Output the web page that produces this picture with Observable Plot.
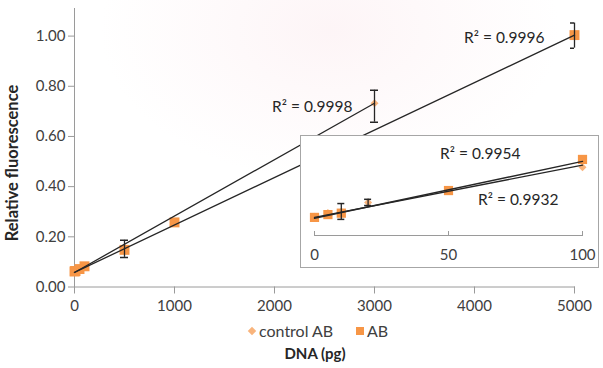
<!DOCTYPE html>
<html><head><meta charset="utf-8">
<script src="https://cdn.jsdelivr.net/npm/d3@7"></script>
<script src="https://cdn.jsdelivr.net/npm/@observablehq/plot@0.6"></script>
<style>
body{margin:0;background:#fff;}
#chart{position:relative;width:603px;height:368px;overflow:hidden;font-family:Lato,sans-serif;color:#404040;
  background:radial-gradient(ellipse 230px 150px at 330px 30px, rgba(250,226,231,0.35), rgba(255,255,255,0));}
#main{position:absolute;left:0;top:0;}
#inset{position:absolute;left:300px;top:135px;width:297px;height:131px;border:1px solid #a6a6a6;background:#fff;}
.txt{position:absolute;font-size:16px;line-height:20px;white-space:nowrap;}
.bold{font-weight:bold;color:#262626;}
svg [aria-label$="tick"]{stroke:#9a9a9a;}
svg [aria-label$="tick label"]{fill:#404040;}
</style></head>
<body>
<div id="chart">
  <div id="main"></div>
  <div id="inset"></div>
  <div id="legend"></div>
  <div class="txt bold" style="left:215px;width:200px;text-align:center;top:343px;font-size:15px;">DNA (pg)</div>
  <div class="txt bold" style="left:-88px;width:200px;text-align:center;top:153px;font-size:16.5px;transform:rotate(-90deg);">Relative fluorescence</div>
</div>
<script>
// ---- data ----
const abX = [0, 5, 10, 50, 100, 500, 1000, 5000];
const abY = [0.062, 0.063, 0.0635, 0.0715, 0.0825, 0.148, 0.2575, 1.004];
const ctlX = [0, 5, 10, 20, 100, 500, 3000];
const ctlY = [0.0622, 0.0636, 0.064, 0.0673, 0.0797, 0.155, 0.7325];

const errX = [500, 3000, 5000];
const errLo = [0.118, 0.657, 0.952];
const errHi = [0.186, 0.784, 1.052];

const abTrendX = [0, 5000], abTrendY = [0.058, 1.004];
const ctlTrendX = [0, 3000], ctlTrendY = [0.058, 0.7325];

const insetMaxX = 100;
const insetErrX = [10, 20];
const insetErrLo = [0.0613, 0.0662];
const insetErrHi = [0.0669, 0.0684];
const insetAbTrendX = [0, 100], insetAbTrendY = [0.0617, 0.0818];
const insetCtlTrendX = [0, 100], insetCtlTrendY = [0.062, 0.0805];

const xTicks = [0, 1000, 2000, 3000, 4000, 5000];
const yTicks = [0, 0.2, 0.4, 0.6, 0.8, 1.0];
const insetTicks = [0, 50, 100];

const r2Main = {ctl: "R² = 0.9998", ab: "R² = 0.9996"};
const r2Inset = {ab: "R² = 0.9954", ctl: "R² = 0.9932"};
const seriesNames = ["control AB", "AB"];

// ---- build tables ----
const zip = (xs, ys) => xs.map((x, i) => ({x, y: ys[i]}));
const ab = zip(abX, abY), ctl = zip(ctlX, ctlY);
const errs = errX.map((x, i) => ({x, lo: errLo[i], hi: errHi[i]}));
const abTrend = zip(abTrendX, abTrendY), ctlTrend = zip(ctlTrendX, ctlTrendY);
const abIn = ab.filter(d => d.x <= insetMaxX), ctlIn = ctl.filter(d => d.x <= insetMaxX);
const insetErrs = insetErrX.map((x, i) => ({x, lo: insetErrLo[i], hi: insetErrHi[i]}));
const insetAbTrend = zip(insetAbTrendX, insetAbTrendY), insetCtlTrend = zip(insetCtlTrendX, insetCtlTrendY);

const ORANGE = "#F79646", LIGHT = "#F9B47C", LINE = "#262626", AX = "#9a9a9a";
const font = {background: "transparent", fontFamily: "Lato, sans-serif", fontSize: "15px", color: "#404040", overflow: "visible"};

const lastOf = a => a[a.length - 1];

const main = Plot.plot({
  width: 603, height: 320,
  marginLeft: 74, marginRight: 29, marginTop: 8, marginBottom: 33.5,
  style: font,
  x: {domain: [0, 5000]},
  y: {domain: [0, 1.11]},
  marks: [
    Plot.frame({anchor: "left", stroke: AX}),
    Plot.frame({anchor: "bottom", stroke: AX}),
    Plot.axisX({ticks: xTicks, tickSize: 7, tickPadding: 6, tickFormat: d3.format("d"), label: null}),
    Plot.axisY({ticks: yTicks, tickSize: 6, tickPadding: 3, tickFormat: d3.format(".2f"), label: null}),
    Plot.dot(ctl, {x: "x", y: "y", symbol: "diamond2", r: 3.6, fill: LIGHT}),
    Plot.dot(ab, {x: "x", y: "y", symbol: "square", r: 5.6, fill: ORANGE}),
    Plot.line(ctlTrend, {x: "x", y: "y", stroke: LINE, strokeWidth: 1.3}),
    Plot.line(abTrend, {x: "x", y: "y", stroke: LINE, strokeWidth: 1.3}),
    Plot.ruleX(errs, {x: "x", y1: "lo", y2: "hi", stroke: LINE, strokeWidth: 1.3}),
    Plot.ruleY(errs, {x1: "x", x2: "x", y: "hi", insetLeft: -4, insetRight: -4, stroke: LINE, strokeWidth: 1.5, clip: true}),
    Plot.ruleY(errs, {x1: "x", x2: "x", y: "lo", insetLeft: -4, insetRight: -4, stroke: LINE, strokeWidth: 1.5, clip: true}),
    Plot.text([lastOf(ctl)], {x: "x", y: "y", text: () => r2Main.ctl, dx: -22, dy: 4, textAnchor: "end", fontSize: 15.5, fill: "#262626"}),
    Plot.text([lastOf(ab)], {x: "x", y: "y", text: () => r2Main.ab, dx: -30, dy: 3, textAnchor: "end", fontSize: 15.5, fill: "#262626"})
  ]
});
document.getElementById("main").appendChild(main);

const inset = Plot.plot({
  width: 297, height: 131,
  marginLeft: 13, marginRight: 16, marginTop: 4, marginBottom: 32,
  style: font,
  x: {domain: [0, 100]},
  y: {domain: [0.0556, 0.0892], axis: null},
  marks: [
    Plot.frame({anchor: "bottom", stroke: AX}),
    Plot.ruleX(insetTicks, {insetTop: 91, stroke: AX}),
    Plot.axisX({ticks: insetTicks, tickSize: 0, tickPadding: 14, tickFormat: d3.format("d"), label: null}),
    Plot.dot(ctlIn, {x: "x", y: "y", symbol: "diamond2", r: 3.6, fill: LIGHT}),
    Plot.dot(abIn, {x: "x", y: "y", symbol: "square", r: 5.2, fill: ORANGE}),
    Plot.line(insetCtlTrend, {x: "x", y: "y", stroke: LINE, strokeWidth: 1.4}),
    Plot.line(insetAbTrend, {x: "x", y: "y", stroke: LINE, strokeWidth: 1.4}),
    Plot.ruleX(insetErrs, {x: "x", y1: "lo", y2: "hi", stroke: LINE, strokeWidth: 1.3}),
    Plot.ruleY(insetErrs, {x1: "x", x2: "x", y: "hi", insetLeft: -3.5, insetRight: -3.5, stroke: LINE, strokeWidth: 1.5}),
    Plot.ruleY(insetErrs, {x1: "x", x2: "x", y: "lo", insetLeft: -3.5, insetRight: -3.5, stroke: LINE, strokeWidth: 1.5}),
    Plot.text([lastOf(abIn)], {x: "x", y: "y", text: () => r2Inset.ab, dx: -62, dy: -5, textAnchor: "end", fontSize: 15.5, fill: "#262626"}),
    Plot.text([lastOf(ctlIn)], {x: "x", y: "y", text: () => r2Inset.ctl, dx: -24, dy: 33, textAnchor: "end", fontSize: 15.5, fill: "#262626"})
  ]
});
document.getElementById("inset").appendChild(inset);

// legend (HTML, below the SVG)
const leg = document.getElementById("legend");
leg.innerHTML = `
  <div style="position:absolute;left:249px;top:328px;width:6px;height:6px;background:${LIGHT};transform:rotate(45deg);"></div>
  <div class="txt" style="left:259px;top:321px;">${seriesNames[0]}</div>
  <div style="position:absolute;left:356px;top:327px;width:8px;height:8px;background:${ORANGE};"></div>
  <div class="txt" style="left:367px;top:321px;">${seriesNames[1]}</div>`;
</script>
</body></html>
